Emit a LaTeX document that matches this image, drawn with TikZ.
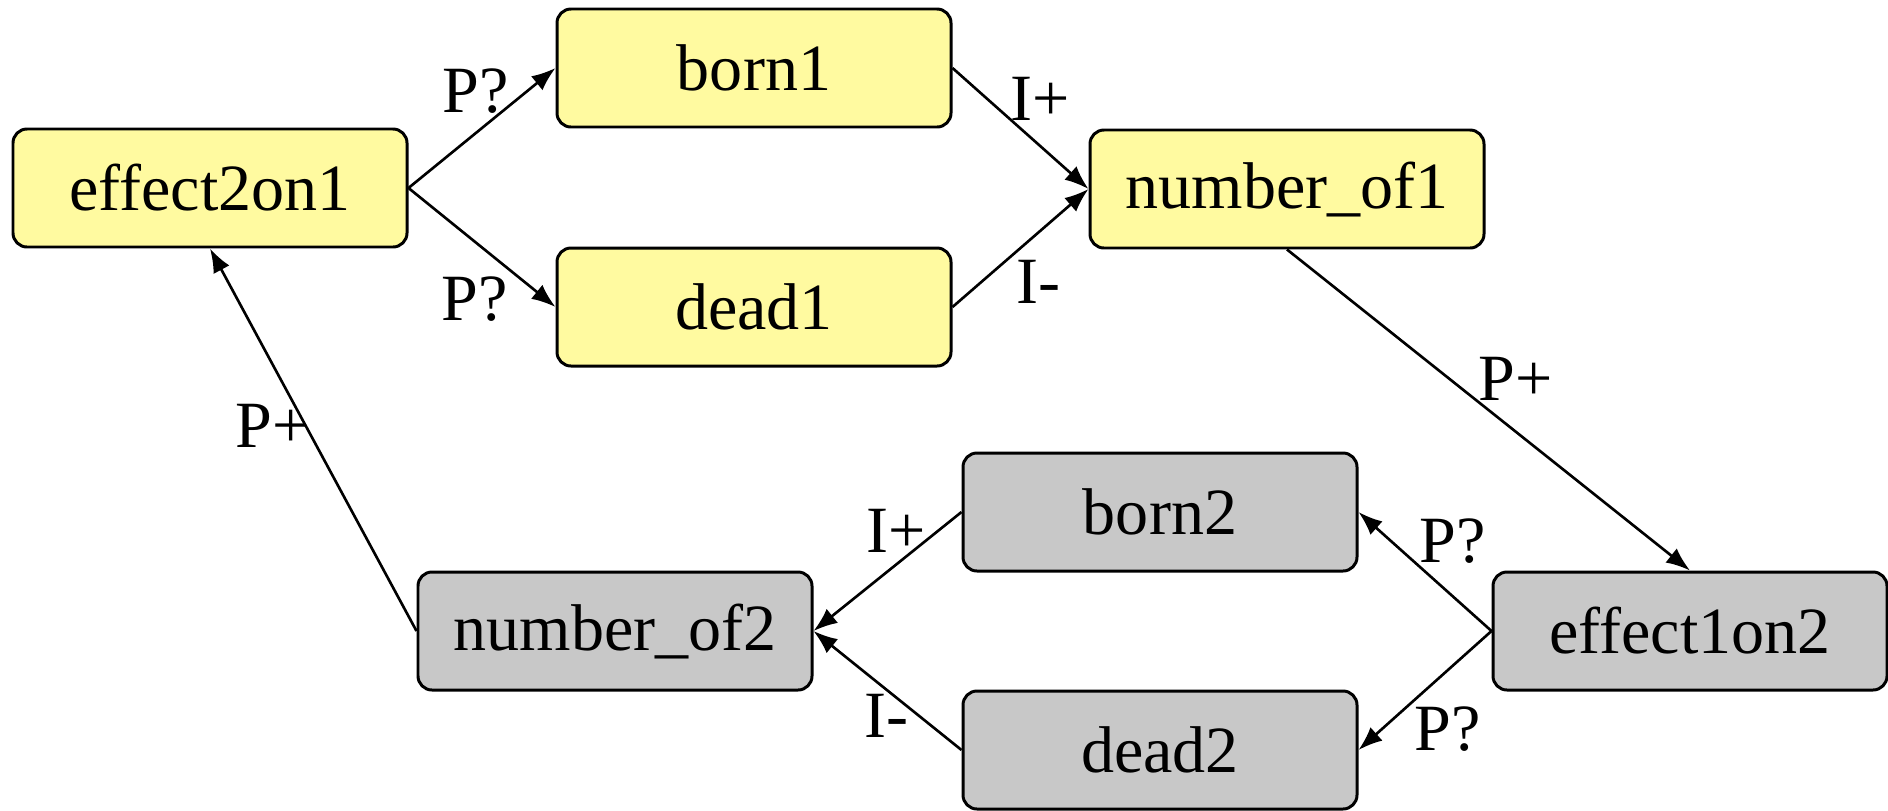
\documentclass[tikz,border=0pt]{standalone}
\usepackage{fontspec}
\setmainfont{Liberation Serif}
\usetikzlibrary{arrows.meta}

\definecolor{qyellow}{RGB}{255,250,160}
\definecolor{qgray}{RGB}{200,200,200}

\tikzset{
	quantity/.style={draw, line width=0.85pt, rounded corners=0.14cm, minimum width=3.94cm, minimum height=1.18cm, inner sep=0pt},
	rel/.style={-{Latex[length=0.24cm,width=0.18cm]}, line width=0.75pt},
	lbl/.style={inner sep=2pt}
}

\begin{document}
\begin{tikzpicture}[font=\fontsize{18.8}{22}\selectfont]
	\useasboundingbox (0,0) rectangle (18.88,8.10);
	% population 1
	\node[quantity, fill=qyellow] (effect2on1) at (2.10,6.22) {effect2on1};
	\node[quantity, fill=qyellow] (born1) at (7.54,7.42) {born1};
	\node[quantity, fill=qyellow] (dead1) at (7.54,5.03) {dead1};
	\node[quantity, fill=qyellow] (numberof1) at (12.87,6.21) {number\_of1};
	% population 2
	\node[quantity, fill=qgray] (effect1on2) at (16.90,1.79) {effect1on2};
	\node[quantity, fill=qgray] (born2) at (11.60,2.98) {born2};
	\node[quantity, fill=qgray] (dead2) at (11.60,0.60) {dead2};
	\node[quantity, fill=qgray] (numberof2) at (6.15,1.79) {number\_of2};
	% dependencies
	\draw[rel] (effect2on1.east) -- (born1.west) node[lbl, pos=0.55, above left, xshift=0.28cm] {P?};
	\draw[rel] (effect2on1.east) -- (dead1.west) node[lbl, pos=0.55, below left, xshift=0.27cm, yshift=-0.15cm] {P?};
	\draw[rel] (born1.east) -- (numberof1.west) node[lbl, pos=0.5, above right, xshift=-0.18cm] {I+};
	\draw[rel] (dead1.east) -- (numberof1.west) node[lbl, pos=0.5, below right, xshift=-0.12cm, yshift=-0.04cm] {I-};
	\draw[rel] (numberof1.south) -- (effect1on2.north) node[lbl, pos=0.5, above right, xshift=-0.18cm, yshift=0.01cm] {P+};
	\draw[rel] (effect1on2.west) -- (born2.east) node[lbl, pos=0.5, above right, xshift=-0.14cm] {P?};
	\draw[rel] (effect1on2.west) -- (dead2.east) node[lbl, pos=0.5, below right, xshift=-0.19cm, yshift=-0.08cm] {P?};
	\draw[rel] (born2.west) -- (numberof2.east) node[lbl, pos=0.5, above left, xshift=0.47cm, yshift=0.11cm] {I+};
	\draw[rel] (dead2.west) -- (numberof2.east) node[lbl, pos=0.5, below left, xshift=0.29cm, yshift=0.05cm] {I-};
	\draw[rel] (numberof2.west) -- (effect2on1.south) node[lbl, pos=0.5, left, xshift=0.05cm, yshift=0.14cm] {P+};
\end{tikzpicture}
\end{document}
